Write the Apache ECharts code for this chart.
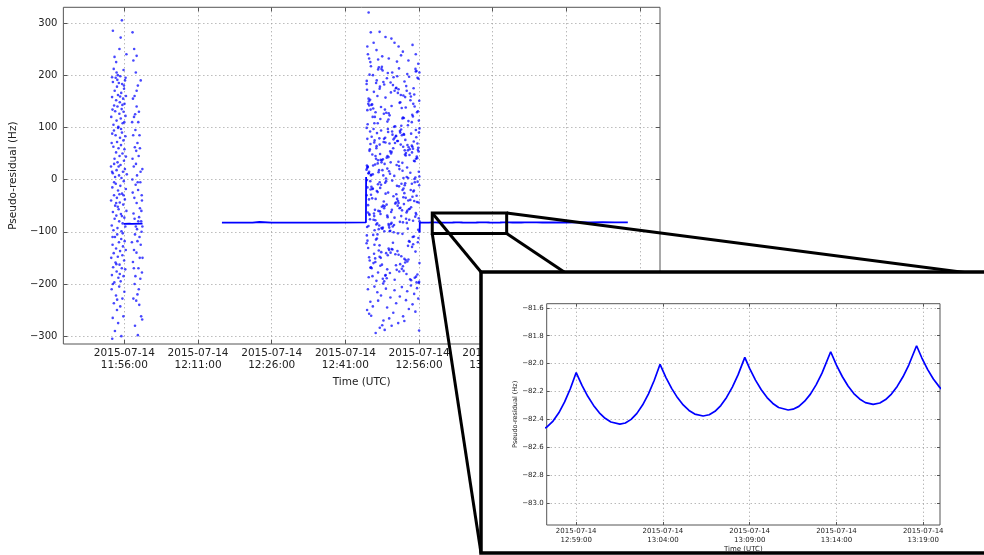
<!DOCTYPE html>
<html><head><meta charset="utf-8">
<script src="https://cdn.jsdelivr.net/npm/echarts@6/dist/echarts.min.js"></script>
<style>html,body{margin:0;padding:0;background:#fff}#c{width:984px;height:555px}</style>
</head><body><div id="c"></div>
<script>
// All times are seconds after 2015-07-14 11:56:00 UTC
const DATE = '2015-07-14';
const REF_SECONDS = 11 * 3600 + 56 * 60;

const mainTimeTicks = [0, 900, 1800, 2700, 3600, 4500, 5400, 6300];
const mainValueTicks = [-300, -200, -100, 0, 100, 200, 300];
const insetTimeTicks = [3780, 4080, 4380, 4680, 4980];
const insetValueTicks = [-83.0, -82.8, -82.6, -82.4, -82.2, -82.0, -81.8, -81.6];
const mainTimeRange = [-745, 6543];
const mainValueRange = [-315, 330];
const insetTimeRange = [3678, 5038];
const insetValueRange = [-83.155, -81.571];
const zoomBoxTime = [3761, 4670];
const zoomBoxValue = [-103.3, -63.9];

// first burst, left column [time s, Hz]
const cluster1ColA = [
[-30,305],[-140,285],[-120,235],[-45,272],[-60,250],[-150,196],[-95,205],[-10,210],[-80,200],[-5,180],[-100,225],[15,195],[-130,212],[25,240],
[-160,120],[-150,158],[-140,187],[-133,105],[-125,142],[-118,170],[-112,131],[-106,195],[-100,152],[-95,113],[-90,178],[-84,140],[-78,162],[-73,101],[-67,185],[-61,126],[-56,148],[-50,198],[-44,117],[-38,166],[-33,135],[-27,183],[-21,108],[-15,155],[-10,130],[-4,174],[2,145],[8,190],[14,122],[20,160],[-145,134],[-86,191],[-52,159],[-24,143],[-1,110],
[-163,25],[-155,70],[-148,88],[-141,12],[-134,63],[-127,94],[-120,40],[-113,5],[-107,85],[-101,52],[-95,18],[-89,72],[-83,33],[-77,99],[-71,60],[-65,8],[-59,45],[-53,80],[-47,28],[-41,66],[-35,3],[-29,90],[-23,50],[-17,15],[-11,75],[-5,36],[1,58],[7,20],[13,83],[19,44],[30,10],[-125,30],[-70,25],[-40,97],[-150,15],
[-162,-40],[-154,-88],[-147,-15],[-140,-62],[-133,-97],[-126,-30],[-119,-75],[-112,-50],[-105,-8],[-98,-69],[-91,-35],[-84,-93],[-77,-21],[-70,-57],[-63,-80],[-56,-44],[-49,-12],[-42,-66],[-35,-99],[-28,-27],[-21,-84],[-14,-48],[-7,-3],[0,-73],[6,-38],[12,-90],[18,-18],[25,-60],[-144,-110],[-100,-45],[-60,-28],[-30,-70],[-125,-5],[-80,-52],[-10,-30],
[-160,-150],[-152,-183],[-144,-125],[-137,-168],[-130,-141],[-122,-197],[-115,-110],[-108,-159],[-101,-132],[-94,-176],[-87,-105],[-80,-148],[-73,-188],[-66,-120],[-59,-163],[-52,-137],[-45,-195],[-38,-114],[-31,-170],[-24,-145],[-17,-128],[-10,-185],[-3,-155],[4,-118],[11,-172],[17,-135],[-140,-200],[-98,-162],[-56,-181],[-20,-103],
[-155,-210],[-142,-265],[-128,-237],[-115,-290],[-102,-222],[-90,-250],[-76,-275],[-63,-205],[-50,-243],[-37,-300],[-24,-228],[-12,-262],[0,-215],[-148,-305],[-88,-230]
];
// first burst, right column
const cluster1ColB = [
[100,282],[120,250],[150,237],[110,228],[140,205],[165,180],[125,160],[105,155],[150,140],[118,120],[170,110],[135,95],[108,85],[160,70],[128,62],[145,55],[175,45],[115,25],[155,8],[98,0],[138,-10],[168,-20],[122,-35],[150,-45],[190,-55],[112,-65],[180,-72],[140,-90],[210,-100],[130,-105],[160,-118],[200,-125],[118,-135],[148,-140],[188,-150],[105,-158],[172,-170],[215,-178],[135,-185],[195,-190],[125,-200],[160,-220],[110,-228],[145,-232],[182,-240],[205,-262],[130,-280],[218,-268],[165,-298],[100,40],[185,85],[195,-5],[205,-80],[220,20],[212,-30],[178,130],[200,190],[92,-120],[222,-150],[95,110],[215,-40],[170,-80],[155,-95],[185,-110],[208,-60],[125,-75],[142,30],[102,-25],[190,60],[132,125],[176,-210],[220,-90],[116,-170],[198,15],[150,170],[163,-5]
];
// second burst
const cluster2 = [
[2984,320],[3010,282],[3118,283],[3045,262],[2968,255],[3262,270],[3300,262],[3350,255],[3190,273],[2975,240],[3080,248],[3402,245],[3150,236],[3520,258],[3560,240],[3230,232],[3470,228],[3005,225],[3330,226],[3590,222],[3100,230],[3380,238],[2990,232],
[3141,212],[2987,150],[3422,188],[3060,120],[3533,175],[3218,204],[2968,133],[3377,162],[3095,108],[3581,195],[3264,141],[3012,217],[3449,170],[3170,126],[2959,183],[3308,102],[3500,159],[3037,200],[3388,137],[3226,115],[3122,178],[3569,208],[2979,145],[3341,166],[3464,104],[3083,190],[3199,128],[3556,212],[3002,153],[3415,118],[3281,181],[3135,139],[2995,201],[3511,110],[3048,168],[3362,147],[3593,193],[3240,123],[3109,215],[3430,158],[2972,106],[3322,176],[3183,134],[3478,197],[3027,144],[3397,117],[3252,186],[3541,163],[3068,129],[3155,209],[3602,151],[3295,101],[2964,172],[3437,138],[3207,194],[3525,121],[3091,160],[3355,213],[3018,143],[3470,112],[3174,182],[3586,131],[3272,205],[2983,155],[3403,119],[3118,174],[3546,140],[3333,198],[3054,108],[3488,165],[3229,127],[2961,189],[3371,148],[3146,216],[3597,113],[3301,170],[3040,136],[3456,202],[3190,157],[3517,124],[3075,185],[3383,103],[3256,167],[2991,142],[3560,207],[3127,116],[3443,179],[3008,134],[3288,196],[3494,152],[3213,111],[3349,173],[3575,129],[3100,211],[3408,161],[3164,187],[3529,145],[3033,120],[3317,175],[3604,205],
[3214,45],[3503,88],[2982,12],[3376,67],[3095,31],[3561,95],[3247,54],[3011,8],[3432,76],[3158,39],[3590,61],[2966,22],[3319,84],[3467,3],[3124,49],[3052,71],[3398,17],[3271,92],[3538,36],[2999,58],[3186,80],[3355,26],[3081,64],[3449,5],[3227,43],[3605,98],[2958,19],[3306,70],[3514,52],[3141,33],[3412,87],[3035,10],[3284,60],[3577,41],[3172,78],[2975,24],[3366,93],[3483,47],[3105,14],[3239,69],[3547,35],[3021,82],[3425,56],[3196,2],[3333,74],[3063,29],[3599,90],[3258,50],[2990,15],[3458,66],[3131,38],[3390,85],[3212,21],[3526,59],[3044,97],[3297,7],[3572,44],[3167,72],[2963,27],[3406,63],[3086,89],[3493,13],[3264,53],[3115,79],[3348,34],[3555,4],[3006,68],[3437,46],[3222,91],[3152,18],[3585,57],[3318,83],[2971,25],[3473,62],[3074,40],[3381,96],[3245,11],[3535,73],[3029,48],[3179,30],[3417,86],[2994,55],[3603,6],[3288,77],[3099,37],[3511,65],[3360,20],[3136,94],[3440,51],[3016,9],[3566,81],[3205,42],[3326,28],[3057,75],[3487,58],[3233,16],[2960,99],[3396,32],[3119,67],[3543,1],[3275,86],[3068,45],[3454,23],[3189,71],[3593,54],[2986,12],[3370,90],[3145,37],[3519,63],[3039,27],[3301,80],[3428,48],[3163,8],[3580,69],[3253,33],[3002,92],[3464,56],[3111,18],[3342,74],[3562,40],[3219,97],[3597,15],[3078,60],[3409,3],[2968,78],
[3287,-32],[3044,-77],[3512,-8],[3173,-55],[2965,-91],[3398,-20],[3129,-66],[3574,-43],[3241,-99],[3018,-14],[3455,-60],[3332,-37],[3089,-84],[3548,-5],[2977,-49],[3216,-72],[3420,-26],[3152,-94],[3601,-11],[3061,-58],[3366,-81],[3493,-39],[3198,-3],[2994,-68],[3309,-46],[3113,-88],[3530,-23],[3259,-62],[3035,-17],[3441,-75],[3180,-51],[3589,-96],[2960,-30],[3382,-70],[3098,-9],[3475,-57],[3227,-85],[3343,-41],[3008,-19],[3560,-64],[3140,-93],[3408,-34],[3272,-2],[3066,-78],[3503,-53],[3191,-27],[2982,-89],[3355,-13],[3122,-61],[3594,-44],[3248,-98],[3027,-36],[3431,-7],[3300,-73],[3161,-50],[3537,-21],[3077,-86],[3392,-59],[2970,-15],[3211,-69],[3468,-40],[3107,-95],[3322,-28],[3582,-4],[3049,-65],[3264,-83],[3415,-47],[3136,-10],[3000,-76],[3519,-33],[3236,-92],[3372,-54],[3084,-22],[3605,-80],[3186,-6],[3447,-63],[2988,-38],[3294,-87],[3125,-16],[3553,-71],[3350,-45],[3057,-97],[3222,-25],[3486,-56],[2963,-1],[3403,-82],[3169,-42],[3566,-67],[3031,-18],[3279,-90],[3437,-35],[3103,-60],[3330,-12],[3527,-79],[3204,-48],[3013,-29],[3462,-94],[3145,-52],[3385,-8],[3596,-74],[3070,-37],[3255,-85],[3498,-20],[2975,-63],[3317,-44],[3176,-99],[3425,-11],[3052,-70],[3570,-31],[3231,-88],[3361,-55],[3094,-24],[3480,-77],[3004,-3],[3268,-58],[3541,-41],[3157,-92],[3410,-17],[2992,-66],[3603,-100],[3339,-50],[3119,-5],[3450,-83],
[3252,-140],[3031,-185],[3477,-118],[3147,-163],[3569,-197],[2978,-131],[3358,-176],[3092,-105],[3421,-152],[3205,-189],[3528,-124],[3012,-168],[3310,-143],[3161,-199],[3592,-112],[3066,-158],[3446,-181],[3234,-135],[2962,-107],[3389,-171],[3118,-148],[3503,-193],[3281,-121],[3043,-160],[3556,-138],[3187,-184],[3342,-103],[2997,-155],[3465,-127],[3099,-178],[3218,-145],[3601,-196],[3074,-115],[3403,-166],[3265,-133],[2985,-187],[3537,-109],[3132,-150],[3327,-173],[3055,-125],[3491,-191],[3198,-141],[3369,-162],[2970,-117],[3580,-182],[3108,-136],[3436,-154],[3290,-101],[3021,-170],[3514,-129],[3174,-195],[3383,-147],[3085,-113],[3244,-179],[3457,-157],[2959,-122],[3547,-188],[3138,-139],[3318,-164],[3040,-106],[3411,-175],[3228,-132],[3596,-198],[3064,-151],[3485,-119],[3192,-183],[3350,-144],[3006,-169],[3523,-110],[3157,-190],[3275,-134],[3430,-159],[3117,-126],[3563,-186],[2990,-149],[3397,-104],[3211,-172],[3336,-137],[3079,-194],[3470,-153],[3585,-120],[3127,-165],[3302,-192],[3050,-142],[3605,-160],
[3100,-232],[3420,-271],[2975,-210],[3285,-255],[3180,-288],[3540,-219],[3035,-243],[3390,-206],[3235,-266],[3590,-228],[3070,-294],[3455,-214],[2965,-250],[3320,-237],[3150,-279],[3500,-203],[3015,-261],[3365,-224],[3210,-245],[3575,-208],[3120,-284],[3440,-231],[2990,-257],[3300,-212],[3165,-270],[3520,-239],[3055,-205],[3405,-262],[3250,-226],[3600,-289],[3090,-216],[3475,-248],[3005,-234],[3345,-275],[3195,-209],[3555,-253],[3135,-222],[3265,-280]
];

// continuous tracking segments [time s, Hz]
const trackA = [[-8,-84.8],[60,-84.6],[90,-84.7],[222,-84.4]];
const trackB = [[1192,-82.6],[1400,-82.5],[1565,-82.5],[1575,-81.2],[1650,-81.3],[1660,-82.8],[1800,-82.6],[2200,-82.4],[2600,-82.3],[2951,-82.2],[2953,5]];
const trackC = [[3607,-100],[3609,-82.44],[3645,-82.48],
[3678,-82.455],[3700,-82.411],[3720,-82.352],[3740,-82.274],[3760,-82.178],[3780,-82.064],
[3800,-82.156],[3820,-82.234],[3840,-82.299],[3860,-82.352],[3880,-82.391],[3900,-82.418],[3931,-82.433],
[3950,-82.425],[3970,-82.399],[3990,-82.356],[4010,-82.295],[4030,-82.216],[4050,-82.119],[4070,-82.005],
[4090,-82.098],[4110,-82.177],[4130,-82.243],[4150,-82.296],[4170,-82.335],[4190,-82.361],[4219,-82.375],
[4240,-82.366],[4260,-82.341],[4280,-82.300],[4300,-82.242],[4320,-82.168],[4340,-82.079],[4363,-81.955],
[4380,-82.036],[4400,-82.118],[4420,-82.187],[4440,-82.243],[4460,-82.285],[4480,-82.314],[4513,-82.332],
[4530,-82.326],[4550,-82.306],[4570,-82.269],[4590,-82.218],[4610,-82.150],[4630,-82.068],[4660,-81.915],
[4680,-82.011],[4700,-82.092],[4720,-82.160],[4740,-82.214],[4760,-82.253],[4780,-82.279],[4807,-82.292],
[4830,-82.282],[4850,-82.257],[4870,-82.218],[4890,-82.163],[4910,-82.094],[4930,-82.010],[4957,-81.872],
[4975,-81.958],[4995,-82.041],[5015,-82.110],[5037,-82.170],[5060,-82.215],[5105,-82.250],
[5250,-81.83],[5400,-82.21],[5545,-81.79],[5695,-82.17],[5840,-81.75],[5990,-82.13],[6150,-81.95]];

// layout (pixels)
const INSET_FRAME = {x: 481, y: 272, w: 530, h: 281};
const CONNECT_TO = {tl: [481, 272], tr: [984, 275], bl: [481, 553], br: [984, 553]};

const FONT = 'DejaVu Sans';
const TXT = '#222';
const FRAME = '#555';
const pad = n => (n < 10 ? '0' : '') + n;
function timeLabel(s) {
  const tot = REF_SECONDS + Math.round(s);
  return DATE + '\n' + pad(Math.floor(tot / 3600)) + ':' + pad(Math.floor(tot % 3600 / 60)) + ':' + pad(tot % 60);
}
const minus = s => String(s).replace('-', '\u2212');

function axisCommon(ticks, extra) {
  return Object.assign({
    type: 'value',
    axisLine: {show: false, onZero: false},
    axisTick: {show: true, inside: true, length: 4, customValues: ticks, lineStyle: {color: FRAME, width: 1}},
    splitLine: {show: false},
  }, extra);
}
const gridLine = {show: true, lineStyle: {color: '#9a9a9a', width: 1, type: [1, 3]}};
const insetTick = ticks => ({show: true, inside: true, length: 3, customValues: ticks, lineStyle: {color: FRAME}});
const dotStyle = {color: '#0000ff', opacity: 0.72};

const chart = echarts.init(document.getElementById('c'), null, {renderer: 'canvas'});
const option = {
  animation: false,
  backgroundColor: '#fff',
  textStyle: {fontFamily: FONT},
  grid: [
    {left: 59.3, top: 7.3, right: 984 - 660, bottom: 555 - 344, show: true, borderColor: FRAME, borderWidth: 1, backgroundColor: 'transparent'},
    {left: 546.7, top: 303.7, right: 984 - 940, bottom: 555 - 525, show: true, borderColor: FRAME, borderWidth: 1, zlevel: 3, backgroundColor: 'transparent'}
  ],
  xAxis: [
    axisCommon(mainTimeTicks, {gridIndex: 0, position: 'bottom', min: mainTimeRange[0], max: mainTimeRange[1],
      splitLine: gridLine,
      name: 'Time (UTC)', nameLocation: 'middle', nameGap: 32, nameTextStyle: {fontSize: 10.5, color: TXT, fontFamily: FONT},
      axisLabel: {customValues: mainTimeTicks, formatter: timeLabel, fontSize: 10.5, lineHeight: 12.5, color: TXT, margin: 3, fontFamily: FONT}}),
    axisCommon(mainTimeTicks, {gridIndex: 0, position: 'top', min: mainTimeRange[0], max: mainTimeRange[1], axisLabel: {show: false}}),
    axisCommon(insetTimeTicks, {gridIndex: 1, position: 'bottom', min: insetTimeRange[0], max: insetTimeRange[1], zlevel: 3,
      splitLine: gridLine, axisTick: insetTick(insetTimeTicks),
      name: 'Time (UTC)', nameLocation: 'middle', nameGap: 21, nameTextStyle: {fontSize: 7, color: TXT, fontFamily: FONT},
      axisLabel: {customValues: insetTimeTicks, formatter: timeLabel, fontSize: 7, lineHeight: 9.4, color: TXT, margin: 1, fontFamily: FONT}}),
    axisCommon(insetTimeTicks, {gridIndex: 1, position: 'top', min: insetTimeRange[0], max: insetTimeRange[1], zlevel: 3,
      axisTick: insetTick(insetTimeTicks), axisLabel: {show: false}})
  ],
  yAxis: [
    axisCommon(mainValueTicks, {gridIndex: 0, position: 'left', min: mainValueRange[0], max: mainValueRange[1],
      splitLine: gridLine,
      name: 'Pseudo-residual (Hz)', nameLocation: 'middle', nameGap: 34, nameTextStyle: {fontSize: 10.5, color: TXT, fontFamily: FONT},
      axisLabel: {customValues: mainValueTicks, formatter: v => minus(v), fontSize: 10, color: TXT, margin: 6, fontFamily: FONT}}),
    axisCommon(mainValueTicks, {gridIndex: 0, position: 'right', min: mainValueRange[0], max: mainValueRange[1], axisLabel: {show: false}}),
    axisCommon(insetValueTicks, {gridIndex: 1, position: 'left', min: insetValueRange[0], max: insetValueRange[1], zlevel: 3,
      splitLine: gridLine, axisTick: insetTick(insetValueTicks),
      name: 'Pseudo-residual (Hz)', nameLocation: 'middle', nameGap: 27, nameTextStyle: {fontSize: 6.5, color: TXT, fontFamily: FONT},
      axisLabel: {customValues: insetValueTicks, formatter: v => minus(v.toFixed(1)), fontSize: 7, color: TXT, margin: 3, fontFamily: FONT}}),
    axisCommon(insetValueTicks, {gridIndex: 1, position: 'right', min: insetValueRange[0], max: insetValueRange[1], zlevel: 3,
      axisTick: insetTick(insetValueTicks), axisLabel: {show: false}})
  ],
  series: [
    {type: 'scatter', xAxisIndex: 0, yAxisIndex: 0, data: cluster1ColA, symbolSize: 2.6, itemStyle: dotStyle, silent: true},
    {type: 'scatter', xAxisIndex: 0, yAxisIndex: 0, data: cluster1ColB, symbolSize: 2.6, itemStyle: dotStyle, silent: true},
    {type: 'scatter', xAxisIndex: 0, yAxisIndex: 0, data: cluster2, symbolSize: 2.6, itemStyle: dotStyle, silent: true},
    {type: 'line', xAxisIndex: 0, yAxisIndex: 0, data: trackA, showSymbol: false, lineStyle: {color: '#0000ff', width: 1.8}, silent: true},
    {type: 'line', xAxisIndex: 0, yAxisIndex: 0, data: trackB, showSymbol: false, lineStyle: {color: '#0000ff', width: 1.8}, silent: true},
    {type: 'line', xAxisIndex: 0, yAxisIndex: 0, data: trackC, showSymbol: false, lineStyle: {color: '#0000ff', width: 1.8}, silent: true},
    {type: 'line', xAxisIndex: 2, yAxisIndex: 2, data: trackC, showSymbol: false, clip: true, zlevel: 3, lineStyle: {color: '#0000ff', width: 1.7}, silent: true}
  ]
};
chart.setOption(option);

// zoom box and connectors from data coordinates of the zoomed region
const px = (t, v) => chart.convertToPixel({xAxisIndex: 0, yAxisIndex: 0}, [t, v]);
const bTL = px(zoomBoxTime[0], zoomBoxValue[1]);
const bBR = px(zoomBoxTime[1], zoomBoxValue[0]);
const bTR = [bBR[0], bTL[1]];
const bBL = [bTL[0], bBR[1]];
const blk = {stroke: '#000', lineWidth: 3, fill: 'none'};
const seg = (a, b) => ({type: 'line', zlevel: 1, z: 10, silent: true, shape: {x1: a[0], y1: a[1], x2: b[0], y2: b[1]}, style: blk});
chart.setOption({
  graphic: {elements: [
    {type: 'rect', zlevel: 1, z: 10, silent: true, shape: {x: bTL[0], y: bTL[1], width: bBR[0] - bTL[0], height: bBR[1] - bTL[1]}, style: blk},
    seg(bTL, CONNECT_TO.tl), seg(bTR, CONNECT_TO.tr), seg(bBL, CONNECT_TO.bl), seg(bBR, CONNECT_TO.br),
    {type: 'rect', zlevel: 2, z: 10, silent: true, shape: {x: INSET_FRAME.x, y: INSET_FRAME.y, width: INSET_FRAME.w, height: INSET_FRAME.h},
      style: {fill: '#fff', stroke: '#000', lineWidth: 3.5}}
  ]}
});
</script></body></html>
